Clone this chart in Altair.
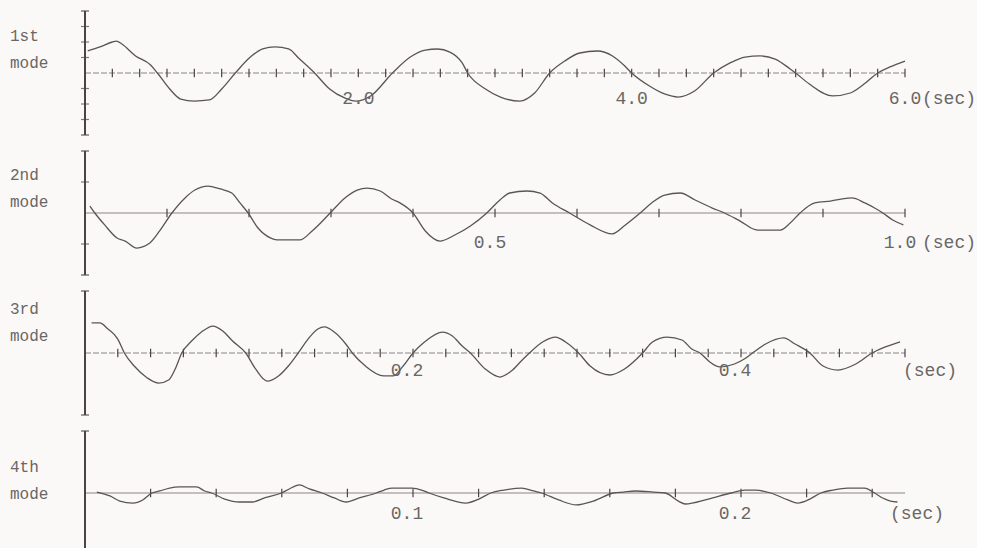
import altair as alt
import pandas as pd

# ---------------- data ----------------
MODE_NAMES = [["1st", "mode"], ["2nd", "mode"], ["3rd", "mode"], ["4th", "mode"]]

T1 = [0.02, 0.11, 0.20, 0.23, 0.27, 0.37, 0.48, 0.53, 0.62, 0.70, 0.80, 0.91, 1.00, 1.10,
      1.21, 1.30, 1.39, 1.49, 1.57, 1.68, 1.79, 1.90, 1.98, 2.09, 2.25, 2.38, 2.49, 2.58,
      2.67, 2.76, 2.80, 2.93, 3.04, 3.18, 3.29, 3.40, 3.51, 3.62, 3.75, 3.86, 3.95, 4.00,
      4.13, 4.24, 4.34, 4.46, 4.60, 4.72, 4.83, 4.94, 5.05, 5.16, 5.20, 5.30, 5.47, 5.60,
      5.71, 5.80, 5.89, 6.00]
V1 = [1.42, 1.68, 2.00, 2.06, 1.87, 1.10, 0.52, 0.00, -1.03, -1.68, -1.81, -1.74, -1.03, 0.00,
      1.03, 1.55, 1.68, 1.55, 0.90, 0.00, -1.03, -1.61, -1.81, -1.48, 0.00, 1.03, 1.48, 1.55,
      1.35, 0.65, 0.00, -1.03, -1.55, -1.81, -1.29, 0.00, 0.77, 1.29, 1.42, 1.10, 0.45, 0.00,
      -0.84, -1.35, -1.55, -1.16, 0.00, 0.65, 1.03, 1.10, 0.90, 0.26, 0.00, -0.71, -1.48, -1.29,
      -0.65, 0.00, 0.39, 0.77]

T2 = [0.006, 0.012, 0.024, 0.039, 0.049, 0.063, 0.079, 0.091, 0.106, 0.122, 0.134, 0.150,
      0.165, 0.179, 0.189, 0.199, 0.211, 0.226, 0.234, 0.262, 0.277, 0.299, 0.317, 0.332,
      0.344, 0.360, 0.374, 0.384, 0.400, 0.415, 0.433, 0.451, 0.470, 0.490, 0.506, 0.518,
      0.539, 0.555, 0.570, 0.591, 0.616, 0.643, 0.659, 0.677, 0.691, 0.707, 0.726, 0.744,
      0.765, 0.780, 0.799, 0.820, 0.848, 0.860, 0.872, 0.890, 0.909, 0.935, 0.951, 0.963,
      0.973, 0.985, 0.998]
V2 = [0.45, 0.00, -0.77, -1.61, -1.81, -2.26, -1.94, -1.16, 0.00, 0.97, 1.48, 1.74,
      1.55, 1.29, 0.65, 0.00, -0.97, -1.61, -1.74, -1.74, -1.16, 0.00, 0.97, 1.48,
      1.61, 1.42, 0.90, 0.65, 0.00, -1.16, -1.81, -1.42, -0.84, 0.00, 0.84, 1.29,
      1.42, 1.29, 0.65, 0.00, -0.77, -1.35, -0.77, 0.00, 0.65, 1.16, 1.29, 0.84,
      0.32, 0.00, -0.52, -1.10, -1.10, -0.65, 0.00, 0.65, 0.77, 0.97, 0.65, 0.32,
      0.00, -0.45, -0.77]

T3 = [0.004, 0.009, 0.014, 0.020, 0.024, 0.030, 0.038, 0.045, 0.051, 0.055, 0.059, 0.065,
      0.071, 0.078, 0.084, 0.090, 0.098, 0.104, 0.111, 0.118, 0.124, 0.130, 0.136, 0.142,
      0.146, 0.152, 0.159, 0.163, 0.171, 0.182, 0.188, 0.194, 0.200, 0.207, 0.218, 0.224,
      0.230, 0.235, 0.244, 0.253, 0.260, 0.266, 0.271, 0.279, 0.287, 0.293, 0.301, 0.308,
      0.320, 0.329, 0.340, 0.346, 0.355, 0.364, 0.370, 0.375, 0.381, 0.387, 0.396, 0.402,
      0.407, 0.415, 0.426, 0.433, 0.442, 0.450, 0.459, 0.470, 0.480, 0.488, 0.493, 0.497]
V3 = [1.94, 1.94, 1.55, 0.90, 0.00, -0.84, -1.61, -1.94, -1.74, -1.03, 0.00, 0.77,
      1.35, 1.74, 1.42, 0.77, 0.00, -1.03, -1.81, -1.48, -0.84, 0.00, 0.90, 1.55,
      1.68, 1.35, 0.58, 0.00, -0.84, -1.48, -1.48, -0.84, 0.00, 0.71, 1.35, 1.10,
      0.45, 0.00, -1.03, -1.55, -1.16, -0.52, 0.00, 0.71, 1.03, 0.71, 0.00, -0.84,
      -1.42, -1.03, 0.00, 0.71, 1.03, 0.84, 0.26, 0.00, -0.58, -0.90, -0.71, -0.39,
      0.00, 0.58, 0.97, 0.58, 0.00, -0.84, -1.10, -0.71, 0.00, 0.39, 0.58, 0.71]

T4 = [0.0036, 0.0076, 0.0106, 0.0146, 0.0176, 0.0204, 0.0228, 0.0258, 0.0289, 0.0340,
      0.0365, 0.0386, 0.0426, 0.0471, 0.0511, 0.0547, 0.0599, 0.0623, 0.0653, 0.0684,
      0.0723, 0.0760, 0.0796, 0.0836, 0.0888, 0.0912, 0.0936, 0.0997, 0.1033, 0.1049,
      0.1094, 0.1161, 0.1201, 0.1237, 0.1277, 0.1331, 0.1368, 0.1392, 0.1444, 0.1498,
      0.1550, 0.1611, 0.1641, 0.1678, 0.1733, 0.1769, 0.1809, 0.1830, 0.1900, 0.1970,
      0.2012, 0.2043, 0.2091, 0.2143, 0.2173, 0.2210, 0.2243, 0.2280, 0.2325, 0.2377,
      0.2407, 0.2432, 0.2456, 0.2477]
V4 = [0.06, -0.19, -0.52, -0.65, -0.45, 0.00, 0.13, 0.32, 0.39, 0.39,
      0.13, 0.00, -0.39, -0.58, -0.58, -0.32, 0.00, 0.26, 0.52, 0.26,
      0.00, -0.32, -0.58, -0.32, 0.00, 0.19, 0.32, 0.32, 0.13, 0.00,
      -0.32, -0.65, -0.39, 0.00, 0.19, 0.32, 0.13, 0.00, -0.45, -0.77,
      -0.52, 0.00, 0.06, 0.13, 0.06, 0.00, -0.52, -0.71, -0.39, 0.00,
      0.19, 0.19, 0.00, -0.45, -0.65, -0.39, 0.00, 0.19, 0.32, 0.32,
      0.00, -0.32, -0.52, -0.58]

TIMES = [T1, T2, T3, T4]
VALUES = [V1, V2, V3, V4]
X_MAX = [6.0, 1.0, 0.5, 0.25]
X_TICK_STEP = [0.2, 0.1, 0.02, 0.02]
X_TICK_LAST = [6.0, 1.0, 0.5, 0.24]
Y_TICKS = [[-3, -2, -1, 1, 2, 3], [-2, 2], [], []]
NUM_LABEL_POS = [[2.0, 4.0, 6.0], [0.5, 1.0], [0.2, 0.4], [0.1, 0.2]]
NUM_LABELS = [["2.0", "4.0", "6.0"], ["0.5", "1.0"], ["0.2", "0.4"], ["0.1", "0.2"]]
UNIT_LABEL = "(sec)"
Y_MAX = 4

# ---------------- style ----------------
FONT = "Liberation Mono"
INK = "#4a4444"
WAVE = "#5a5555"
TEXTC = "#6a6666"
BG = "#faf9f7"
PANEL_W, PANEL_H = 820, 124
NAME_Y = [38, 37, 31, 49]
NUM_DX = [0, -5, -6, -6]
NUM_DY = [26, 30, 18, 21]
UNIT_DX = [17, 17, -2, -15]
ZERO_DASH = [[6, 2], [1, 0], [6, 2], [1, 0]]
TICK_HALF = 0.28


def panel(i):
    xs = alt.Scale(domain=[0, X_MAX[i]], nice=False, zero=False)
    ys = alt.Scale(domain=[-Y_MAX, Y_MAX], nice=False, zero=False)

    def X(f):
        return alt.X(f, type="quantitative", scale=xs, axis=None)

    def Y(f):
        return alt.Y(f, type="quantitative", scale=ys, axis=None)

    df = pd.DataFrame({"t": TIMES[i], "v": VALUES[i]})
    wave = alt.Chart(df).mark_line(color=WAVE, strokeWidth=1.3, interpolate="monotone").encode(
        x=X("t"), y=Y("v")
    )

    zero = alt.Chart(pd.DataFrame({"t": [0.0], "t2": [X_MAX[i]], "v": [0.0]})).mark_rule(
        color="#8a8585", strokeWidth=1, strokeDash=ZERO_DASH[i]
    ).encode(x=X("t"), x2="t2:Q", y=Y("v"))

    n = int(round(X_TICK_LAST[i] / X_TICK_STEP[i]))
    ticks = [round(k * X_TICK_STEP[i], 4) for k in range(1, n + 1)]
    xt = alt.Chart(pd.DataFrame({"t": ticks, "lo": -TICK_HALF, "hi": TICK_HALF})).mark_rule(
        color=INK, strokeWidth=1.2
    ).encode(x=X("t"), y=Y("lo"), y2="hi:Q")

    yaxis = alt.Chart(pd.DataFrame({"t": [0.0], "lo": [-Y_MAX], "hi": [Y_MAX]})).mark_rule(
        color=INK, strokeWidth=2
    ).encode(x=X("t"), y=Y("lo"), y2="hi:Q")

    caps = alt.Chart(pd.DataFrame({"v": [-Y_MAX, Y_MAX]})).mark_tick(
        color=INK, thickness=1.5, size=8, orient="horizontal"
    ).encode(x=alt.value(0), y=Y("v"))

    nums = alt.Chart(pd.DataFrame({"t": NUM_LABEL_POS[i], "v": 0.0, "lab": NUM_LABELS[i]})).mark_text(
        font=FONT, fontSize=18, color=TEXTC, align="center", baseline="middle",
        dx=NUM_DX[i], dy=NUM_DY[i]
    ).encode(x=X("t"), y=Y("v"), text="lab:N")

    unit = alt.Chart(pd.DataFrame({"t": [X_MAX[i]], "v": [0.0], "lab": [UNIT_LABEL]})).mark_text(
        font=FONT, fontSize=18, color=TEXTC, align="left", baseline="middle",
        dx=UNIT_DX[i], dy=NUM_DY[i]
    ).encode(x=X("t"), y=Y("v"), text="lab:N")

    name = alt.Chart(pd.DataFrame({"top": [MODE_NAMES[i][0]], "bot": [MODE_NAMES[i][1]]}))
    name_top = name.mark_text(
        font=FONT, fontSize=16, color=TEXTC, align="left", baseline="middle"
    ).encode(x=alt.value(-75), y=alt.value(NAME_Y[i] - 13), text="top:N")
    name_bot = name.mark_text(
        font=FONT, fontSize=16, color=TEXTC, align="left", baseline="middle"
    ).encode(x=alt.value(-75), y=alt.value(NAME_Y[i] + 14), text="bot:N")

    layers = [zero, xt, yaxis, caps]
    if Y_TICKS[i]:
        yt = alt.Chart(pd.DataFrame({"v": Y_TICKS[i]})).mark_tick(
            color=INK, thickness=1.2, size=8, orient="horizontal"
        ).encode(x=alt.value(0), y=Y("v"))
        layers.append(yt)
    layers += [wave, nums, unit, name_top, name_bot]
    return alt.layer(*layers).properties(width=PANEL_W, height=PANEL_H)


chart = alt.vconcat(*[panel(i) for i in range(4)], spacing=14).properties(
    padding={"left": 10, "top": 10, "right": 0, "bottom": 0},
    background=BG,
).configure_view(stroke=None)

chart.save("out.html", embed_options={"renderer": "svg", "actions": False})
